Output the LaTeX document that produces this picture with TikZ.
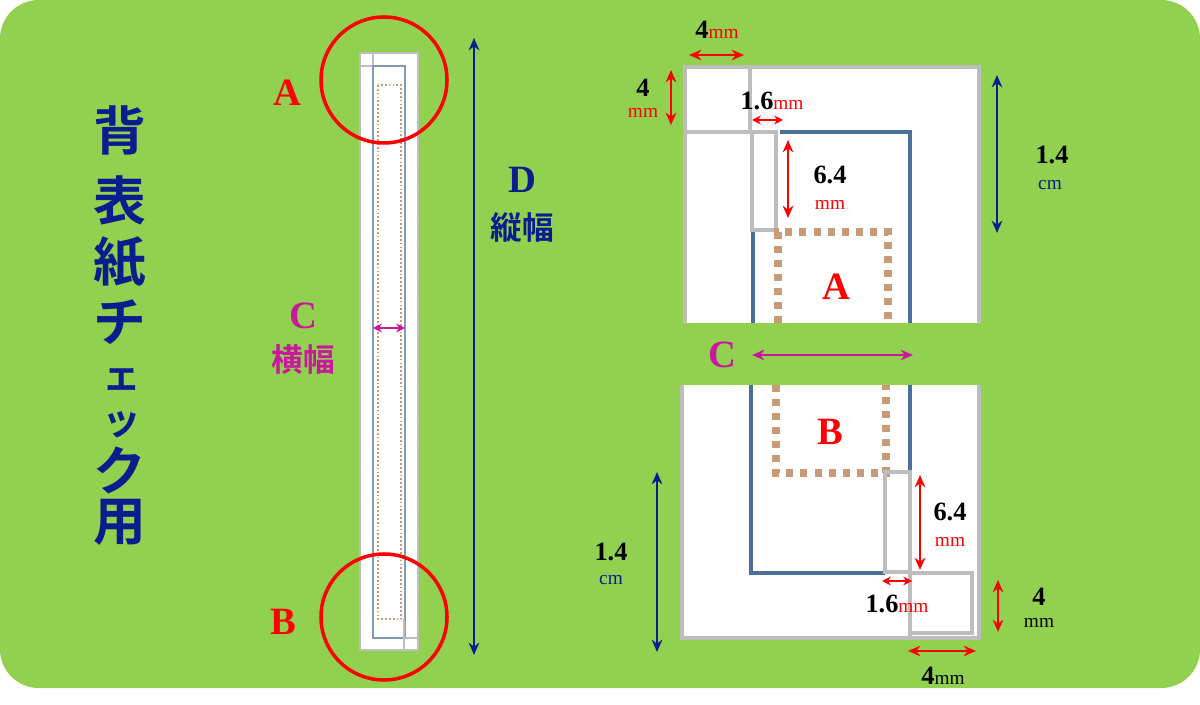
\documentclass[tikz,border=0pt]{standalone}
\usepackage{fontspec}
\setmainfont{Liberation Serif}
\newfontfamily\jp{Noto Sans CJK JP}[BoldFont={Noto Sans CJK JP Bold}]
\usetikzlibrary{arrows.meta}
\definecolor{bg}{HTML}{92D050}
\definecolor{navy}{HTML}{0B1D8C}
\definecolor{mag}{HTML}{C8189E}
\definecolor{dot}{HTML}{C89A78}
\definecolor{bl}{HTML}{4A7099}
\definecolor{gr}{HTML}{BDBDBD}
\tikzset{
 dim/.style={{Stealth[length=7pt,width=6pt]}-{Stealth[length=7pt,width=6pt]},line width=1.6pt},
 lab/.style={inner sep=0pt,font=\bfseries\fontsize{22}{24}\selectfont},
 num/.style={inner sep=0pt,font=\bfseries\fontsize{15}{16}\selectfont},
 unit/.style={inner sep=0pt,font=\fontsize{11}{12}\selectfont},
 gline/.style={draw=gr,line width=2pt},
 bline/.style={draw=bl,line width=2.2pt},
 dline/.style={draw=dot,line width=4pt,dash pattern=on 4pt off 4pt},
 ttl/.style={text=navy,inner sep=0pt},
}
\begin{document}
\begin{tikzpicture}[x=0.02cm,y=-0.02cm]
\useasboundingbox (0,0) rectangle (1200,705);
\fill[bg,rounded corners=22] (0,0) rectangle (1200,688);
% title
\foreach \c/\y in {背/130,表/200,紙/262,チ/322,ク/470,用/522}
  \node[ttl,font=\jp\bfseries\fontsize{30}{30}\selectfont] at (120,\y) {\c};
\foreach \c/\y in {ェ/380,ッ/425}
  \node[ttl,font=\jp\bfseries\fontsize{22}{22}\selectfont] at (122,\y) {\c};
% strip
\fill[white,draw=gr,line width=0.8pt] (360,53) rectangle (418,650);
\draw[gr,line width=0.8pt] (373,53) -- (373,85) (360,66) -- (378,66);
\draw[bl!70,line width=1pt] (373,66) rectangle (405,638);
\draw[dot!90!orange,line width=1pt,dash pattern=on 1pt off 1.2pt] (378,85) rectangle (401,619);
\draw[gr,line width=0.8pt] (404,619) -- (404,650) (404,638) -- (418,638);
\node[draw=red,line width=2pt,circle,minimum size=126*0.02cm] (ca) at (384,80) {};
\node[draw=red,line width=2pt,circle,minimum size=126*0.02cm] (cb) at (384,617) {};
\node[lab,text=red] (la) at (287,93) {A};
\node[lab,text=red] (lb) at (283,622) {B};
\node[lab,text=mag] (lc) at (303,316) {C};
\node[text=mag,font=\jp\bfseries\fontsize{18}{18}\selectfont,inner sep=0pt] (lc2) at (303,360) {横幅};
\coordinate (c1) at (373,328); \coordinate (c2) at (405,328);
\draw[dim,mag,line width=1.2pt,{Stealth[length=5pt,width=5pt]}-{Stealth[length=5pt,width=5pt]}] (c1) -- (c2);
\coordinate (d1) at (474,38); \coordinate (d2) at (474,655);
\draw[dim,navy] (d1) -- (d2);
\node[lab,text=navy] (ld) at (522,180) {D};
\node[text=navy,font=\jp\bfseries\fontsize{18}{18}\selectfont,inner sep=0pt] (ld2) at (522,228) {縦幅};
% top panel
\fill[white] (685,67) rectangle (979,323);
\draw[gr,line width=2pt] (685,323) -- (685,67) -- (979,67) -- (979,323);
\draw[gline] (750,67) -- (750,132) (685,132) -- (752,132);
\draw[gline] (752,132) rectangle (776,230);
\draw[bline] (780,132) -- (910,132) -- (910,323) (753,232) -- (753,323);
\draw[dline] (778,323) -- (778,232) -- (888,232) -- (888,323);
\node[lab,text=red] at (836,287) {A};
\draw[dim,red] (689,55) -- (744,55);
\node[num] at (717,30) {4\textcolor{red}{\mdseries\fontsize{11}{12}\selectfont mm}};
\draw[dim,red] (671,70) -- (671,125);
\node[num] at (643,88) {4};
\node[unit,text=red] at (643,113) {mm};
\node[num] at (772,101) {1.6\textcolor{red}{\mdseries\fontsize{11}{12}\selectfont mm}};
\draw[dim,red,{Stealth[length=5pt,width=5pt]}-{Stealth[length=5pt,width=5pt]}] (752,120) -- (783,120);
\draw[dim,red] (788,140) -- (788,218);
\node[num] at (830,175) {6.4};
\node[unit,text=red] at (830,205) {mm};
\draw[dim,navy] (997,75) -- (997,233);
\node[num] at (1052,155) {1.4};
\node[unit,text=navy] at (1050,185) {cm};
\node[lab,text=mag] at (722,355) {C};
\draw[dim,mag] (752,355) -- (913,355);
% bottom panel
\fill[white] (682,385) rectangle (979,638);
\draw[gr,line width=2pt] (682,385) -- (682,638) -- (979,638) -- (979,385);
\draw[bline] (751,385) -- (751,573) -- (885,573) (910,385) -- (910,470);
\draw[dline] (776,385) -- (776,473) -- (886,473) -- (886,385);
\draw[gline] (885,472) rectangle (910,572);
\draw[gline] (910,573) rectangle (972,633) (910,572) -- (910,638);
\node[lab,text=red] at (830,432) {B};
\draw[dim,red] (920,475) -- (920,570);
\node[num] at (950,512) {6.4};
\node[unit,text=red] at (950,542) {mm};
\draw[dim,red,{Stealth[length=5pt,width=5pt]}-{Stealth[length=5pt,width=5pt]}] (882,581) -- (912,581);
\node[num] at (897,604) {1.6\textcolor{red}{\mdseries\fontsize{11}{12}\selectfont mm}};
\draw[dim,red] (998,580) -- (998,632);
\node[num] at (1039,597) {4};
\node[unit] at (1039,623) {mm};
\draw[dim,red] (908,651) -- (976,651);
\node[num] at (943,676) {4\mdseries\fontsize{11}{12}\selectfont mm};
\draw[dim,navy] (657,472) -- (657,652);
\node[num] at (611,552) {1.4};
\node[unit,text=navy] at (611,580) {cm};
\end{tikzpicture}
\end{document}
